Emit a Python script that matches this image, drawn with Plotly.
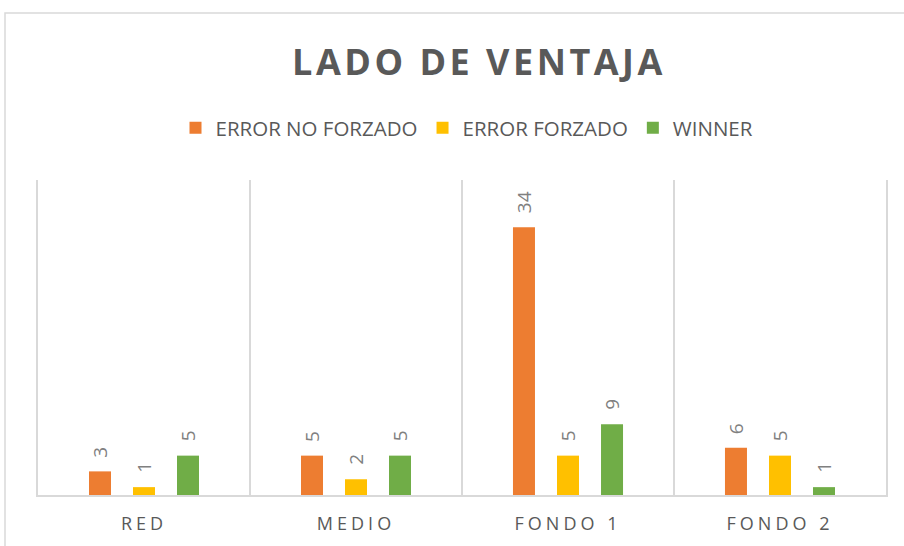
import plotly.graph_objects as go

categories = ["RED", "MEDIO", "FONDO 1", "FONDO 2"]
series_names = ["ERROR NO FORZADO", "ERROR FORZADO", "WINNER"]
error_no_forzado = [3, 5, 34, 6]
error_forzado = [1, 2, 5, 5]
winner = [5, 5, 9, 1]
series_values = [error_no_forzado, error_forzado, winner]
colors = ["#ED7D31", "#FFC000", "#70AD47"]

GRID = "#d9d9d9"
TEXT = "#595959"
LABEL = "#808080"
FONT = "Open Sans"

bargap = 0.377
bargroupgap = 0.5

fig = go.Figure()
for name, vals, col in zip(series_names, series_values, colors):
    fig.add_trace(go.Bar(
        x=categories, y=vals, name=name,
        marker=dict(color=col, line=dict(width=0)),
    ))

# rotated value labels placed above each bar
n = len(series_names)
slot = (1 - bargap) / n
annotations = []
for si, vals in enumerate(series_values):
    offset = (si - (n - 1) / 2) * slot
    for ci, v in enumerate(vals):
        annotations.append(dict(
            x=ci + offset, y=v, xref="x", yref="y",
            text=str(v), showarrow=False, textangle=-90,
            xanchor="center", yanchor="bottom", yshift=12,
            font=dict(family=FONT, size=19, color=LABEL),
        ))

fig.update_layout(
    width=904, height=546,
    margin=dict(l=38, r=18, t=180, b=51),
    paper_bgcolor="white", plot_bgcolor="white",
    barmode="group", bargap=bargap, bargroupgap=bargroupgap,
    title=dict(
        text="<b>LADO DE VENTAJA</b>",
        x=479 / 904, xref="container", xanchor="center",
        y=1 - 62 / 546, yref="container", yanchor="middle",
        font=dict(family=FONT, size=36, color=TEXT),
    ),
    legend=dict(
        orientation="h", x=467 / 904, xref="container", xanchor="center",
        y=1 - 128 / 546, yref="container", yanchor="middle",
        font=dict(family=FONT, size=20.5, color=TEXT),
        itemclick=False, traceorder="normal", tracegroupgap=0,
    ),
    showlegend=True,
    annotations=annotations,
    xaxis=dict(
        type="category", tickson="boundaries", showgrid=True, gridcolor=GRID, gridwidth=1.5,
        showline=True, linecolor=GRID, linewidth=1.5, ticks="", ticklabelstandoff=12,
        tickfont=dict(family=FONT, size=18, color=TEXT),
    ),
    yaxis=dict(
        range=[0, 40], showgrid=False, zeroline=False, showticklabels=False,
        showline=True, mirror=True, linecolor=GRID, linewidth=1.5, ticks="",
    ),
    shapes=[dict(
        type="rect", xref="paper", yref="paper",
        x0=(5 - 38) / 848, x1=1.2, y0=-0.5, y1=1 + (180 - 13) / 315,
        line=dict(color=GRID, width=1.5), fillcolor="rgba(0,0,0,0)", layer="below",
    )],
)

post = """
document.body.style.margin='0';
document.querySelectorAll('.gtitle').forEach(function(t){t.style.letterSpacing='3.5px';});
document.querySelectorAll('.xtick text').forEach(function(t){t.style.letterSpacing='4px';});
"""

fig.write_html("out.html", post_script=post, config={"displayModeBar": False})
